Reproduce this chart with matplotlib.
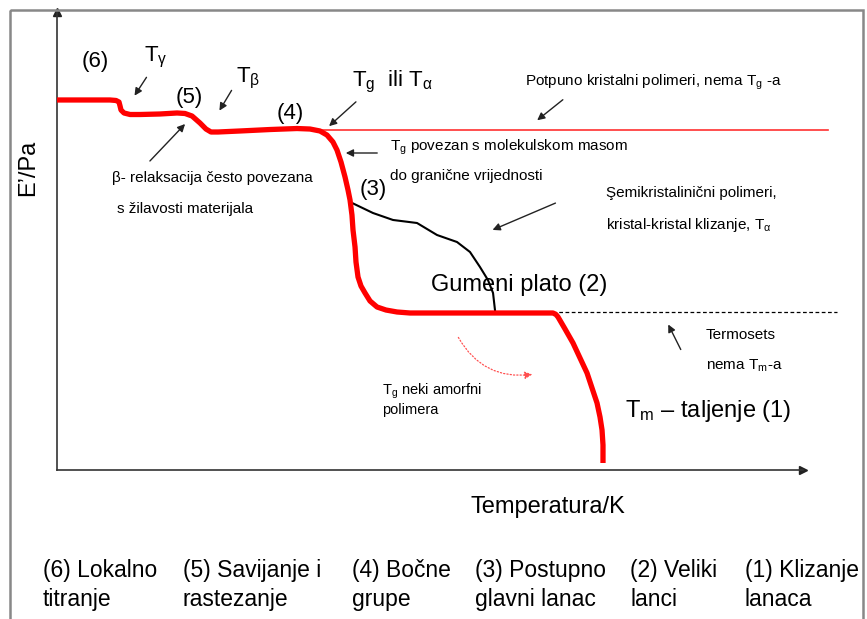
import numpy as np
import matplotlib.pyplot as plt
from matplotlib.patches import Rectangle

plt.rcParams['font.family'] = ['Liberation Sans', 'DejaVu Sans']
plt.rcParams['mathtext.fontset'] = 'custom'
plt.rcParams['mathtext.rm'] = 'Liberation Sans'
plt.rcParams['mathtext.it'] = 'Liberation Sans'

# glavna krivulja modula (amorfni polimer), proizvoljne jedinice 0-100
temp_main = [0, 3.08, 7.10, 7.91, 8.31, 8.45, 8.58, 8.98, 9.79, 11.13, 13.81, 16.09, 17.16,
             18.10, 19.17, 19.97, 20.64, 21.58, 24.53, 28.55, 32.17, 33.91, 35.25, 36.19,
             36.99, 37.53, 38.07, 38.61, 39.01, 39.28, 39.54, 39.68, 39.95, 40.08, 40.35,
             40.75, 41.29, 41.96, 42.90, 44.10, 45.58, 47.32, 51.34, 59.38, 66.49, 66.89,
             67.16, 68.10, 69.17, 70.11, 71.05, 71.72, 72.39, 72.79, 73.06, 73.19, 73.19]
mod_main = [80.79, 80.79, 80.79, 80.68, 80.35, 79.48, 78.60, 77.95, 77.62, 77.62, 77.73, 77.95,
            77.84, 77.29, 75.76, 74.45, 73.80, 73.80, 74.02, 74.34, 74.56, 74.45, 74.02, 73.14,
            71.62, 69.87, 67.25, 63.97, 61.14, 58.95, 55.68, 52.40, 48.69, 45.41, 42.14,
            40.17, 38.65, 36.90, 35.59, 34.93, 34.50, 34.28, 34.28, 34.28, 34.28, 33.95,
            33.41, 30.79, 27.73, 24.45, 21.18, 17.90, 14.63, 11.57, 8.73, 5.46, 1.53]

# semikristalinicni polimeri
temp_semi = [39.28, 42.36, 45.04, 48.26, 50.94, 53.62, 55.36, 56.70, 57.77, 58.45, 58.71]
mod_semi = [58.52, 56.11, 54.59, 53.93, 51.31, 49.78, 47.60, 44.32, 41.48, 38.65, 34.93]

# potpuno kristalni (bez Tg) i termoseti
temp_kristal = [33.9, 103.4]
mod_kristal = [74.2, 74.2]
temp_termoset = [51.3, 104.6]
mod_termoset = [34.5, 34.5]

bottom_labels = ['(6) Lokalno\ntitranje', '(5) Savijanje i\nrastezanje', '(4) Bočne\ngrupe',
                 '(3) Postupno\nglavni lanac', '(2) Veliki\nlanci', '(1) Klizanje\nlanaca']
bottom_x = [43, 183, 352, 475, 630, 745]

W, H = 867, 619
fig = plt.figure(figsize=(W / 100, H / 100), dpi=100)

ax = fig.add_axes([57 / W, 1 - 470 / H, (803 - 57) / W, (470 - 12) / H])
ax.set_xlim(0, 100)
ax.set_ylim(0, 100)
for s in ['top', 'right']:
    ax.spines[s].set_visible(False)
for s in ['left', 'bottom']:
    ax.spines[s].set_color('#333333')
    ax.spines[s].set_linewidth(1.2)
ax.set_xticks([])
ax.set_yticks([])
ax.plot(0, 1, '^', color='#222222', ms=6, transform=ax.transAxes, clip_on=False)
ax.plot(1, 0, '>', color='#222222', ms=6, transform=ax.transAxes, clip_on=False)

ax.plot(temp_kristal, mod_kristal, color='#ff3030', lw=1.2, clip_on=False, zorder=2)
ax.plot(temp_termoset, mod_termoset, color='black', lw=0.9, ls=(0, (3, 2)), clip_on=False, zorder=2)
ax.plot(temp_semi, mod_semi, color='black', lw=1.5, solid_joinstyle='round', zorder=3)
ax.plot(temp_main, mod_main, color='#ff0000', lw=3.8, solid_joinstyle='round',
        solid_capstyle='butt', zorder=4)

# sloj za tekst i strelice u pikselima
ov = fig.add_axes([0, 0, 1, 1])
ov.set_xlim(0, W)
ov.set_ylim(H, 0)
ov.axis('off')
ov.patch.set_alpha(0)

ov.add_patch(Rectangle((10, 10), 853, 640, fill=False, edgecolor='#888888', lw=1.8))

big = 16
ov.text(95, 62, '(6)', fontsize=big, ha='center', va='center')
ov.text(144, 57, r'T$_{\gamma}$', fontsize=big, ha='left', va='center')
ov.text(189, 97, '(5)', fontsize=big, ha='center', va='center')
ov.text(236, 78, r'T$_{\beta}$', fontsize=big, ha='left', va='center')
ov.text(290, 113, '(4)', fontsize=big, ha='center', va='center')
ov.text(352, 82, r'T$_{\mathrm{g}}$  ili T$_{\alpha}$', fontsize=big, ha='left', va='center')
ov.text(373, 190, '(3)', fontsize=big, ha='center', va='center')

small = 11
ov.text(525, 82, r'Potpuno kristalni polimeri, nema T$_{\mathrm{g}}$ -a', fontsize=small, ha='left', va='center')
ov.text(390, 147, r'T$_{\mathrm{g}}$ povezan s molekulskom masom', fontsize=small, ha='left', va='center')
ov.text(390, 176, 'do granične vrijednosti', fontsize=small, ha='left', va='center')
ov.text(112, 178, 'β- relaksacija često povezana', fontsize=small, ha='left', va='center')
ov.text(117, 209, 's žilavosti materijala', fontsize=small, ha='left', va='center')
ov.text(606, 193, 'Şemikristalinični polimeri,', fontsize=small, ha='left', va='center')
ov.text(606, 225, r'kristal-kristal klizanje, T$_{\alpha}$', fontsize=small, ha='left', va='center')
ov.text(706, 335, 'Termosets', fontsize=small, ha='left', va='center')
ov.text(706, 366, r'nema T$_{\mathrm{m}}$-a', fontsize=small, ha='left', va='center')
ov.text(382, 391, r'T$_{\mathrm{g}}$ neki amorfni', fontsize=10.5, ha='left', va='center')
ov.text(382, 410, 'polimera', fontsize=10.5, ha='left', va='center')

ov.text(431, 285, 'Gumeni plato (2)', fontsize=17, ha='left', va='center')
ov.text(625, 411, r'T$_{\mathrm{m}}$ – taljenje (1)', fontsize=17, ha='left', va='center')
ov.text(28, 168, 'E’/Pa', fontsize=17, rotation=90, ha='center', va='center')
ov.text(548, 507, 'Temperatura/K', fontsize=17, ha='center', va='center')

for lab, x in zip(bottom_labels, bottom_x):
    ov.text(x, 585, lab, fontsize=16.5, ha='left', va='center', linespacing=1.3)

arr = dict(arrowstyle='-|>', color='#222222', lw=1.0, mutation_scale=11)
for start, end in [((148, 75), (133, 98)), ((233, 88), (218, 113)), ((148, 163), (187, 122)),
                   ((358, 100), (327, 128)), ((380, 153), (343, 153)), ((565, 98), (535, 122)),
                   ((558, 202), (490, 231)), ((682, 352), (667, 322))]:
    ov.annotate('', xy=end, xytext=start, arrowprops=arr)

ov.annotate('', xy=(535, 374), xytext=(457, 335),
            arrowprops=dict(arrowstyle='-|>', color='#ff5050', lw=0.9, ls=':',
                            mutation_scale=11, connectionstyle='arc3,rad=0.35'))

fig.savefig('out.png', dpi=100)
